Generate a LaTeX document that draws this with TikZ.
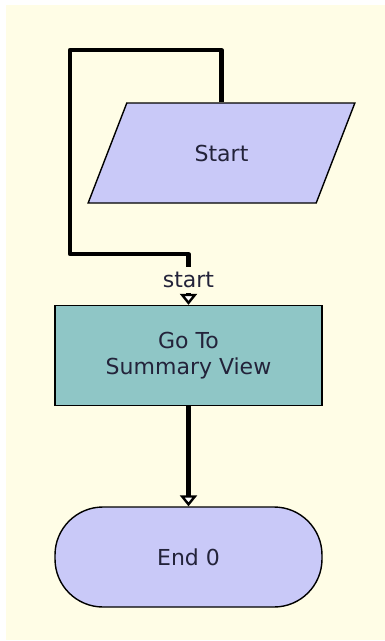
\documentclass[tikz,border=0pt]{standalone}
\usepackage{fontspec}
\setmainfont{DejaVu Sans}
\usetikzlibrary{shapes.geometric,arrows.meta}
\definecolor{cream}{HTML}{FFFDE6}
\definecolor{lav}{HTML}{C9C9F8}
\definecolor{tealfill}{HTML}{8FC6C6}
\definecolor{ink}{HTML}{23233A}
\begin{document}
\begin{tikzpicture}[x=1pt, y=-1pt,
  every node/.style={font=\fontsize{22}{26}\selectfont, text=ink, align=center},
  block/.style={draw=black, line width=1.4pt, minimum width=267pt, minimum height=100pt, inner sep=0pt},
  flow/.style={line width=4.2pt, -{Triangle[width=17pt, length=11pt, fill=white, line width=2.4pt]}}]
\useasboundingbox (0,0) rectangle (385,641);
\fill[cream] (6,5) rectangle (385,640);
\node[block, trapezium, trapezium left angle=56.6, trapezium right angle=123.4, trapezium stretches=true, fill=lav] (start) at (221.5,153) {Start};
\node[block, rectangle, fill=tealfill] (goto) at (188.5,355.5) {Go To\\Summary View};
\node[block, rectangle, rounded corners=48pt, fill=lav] (end) at (188.5,557) {End 0};
\coordinate (loopA) at (70,50);
\coordinate (loopB) at (188.5,254);
\draw[flow, line join=round] (start.north) |- (loopA) |- (loopB) -- (goto.north);
\node[fill=cream, inner sep=0pt, minimum height=26pt] (startlbl) at (188.5,280) {start};
\draw[flow] (goto.south) -- (end.north);
\end{tikzpicture}
\end{document}
